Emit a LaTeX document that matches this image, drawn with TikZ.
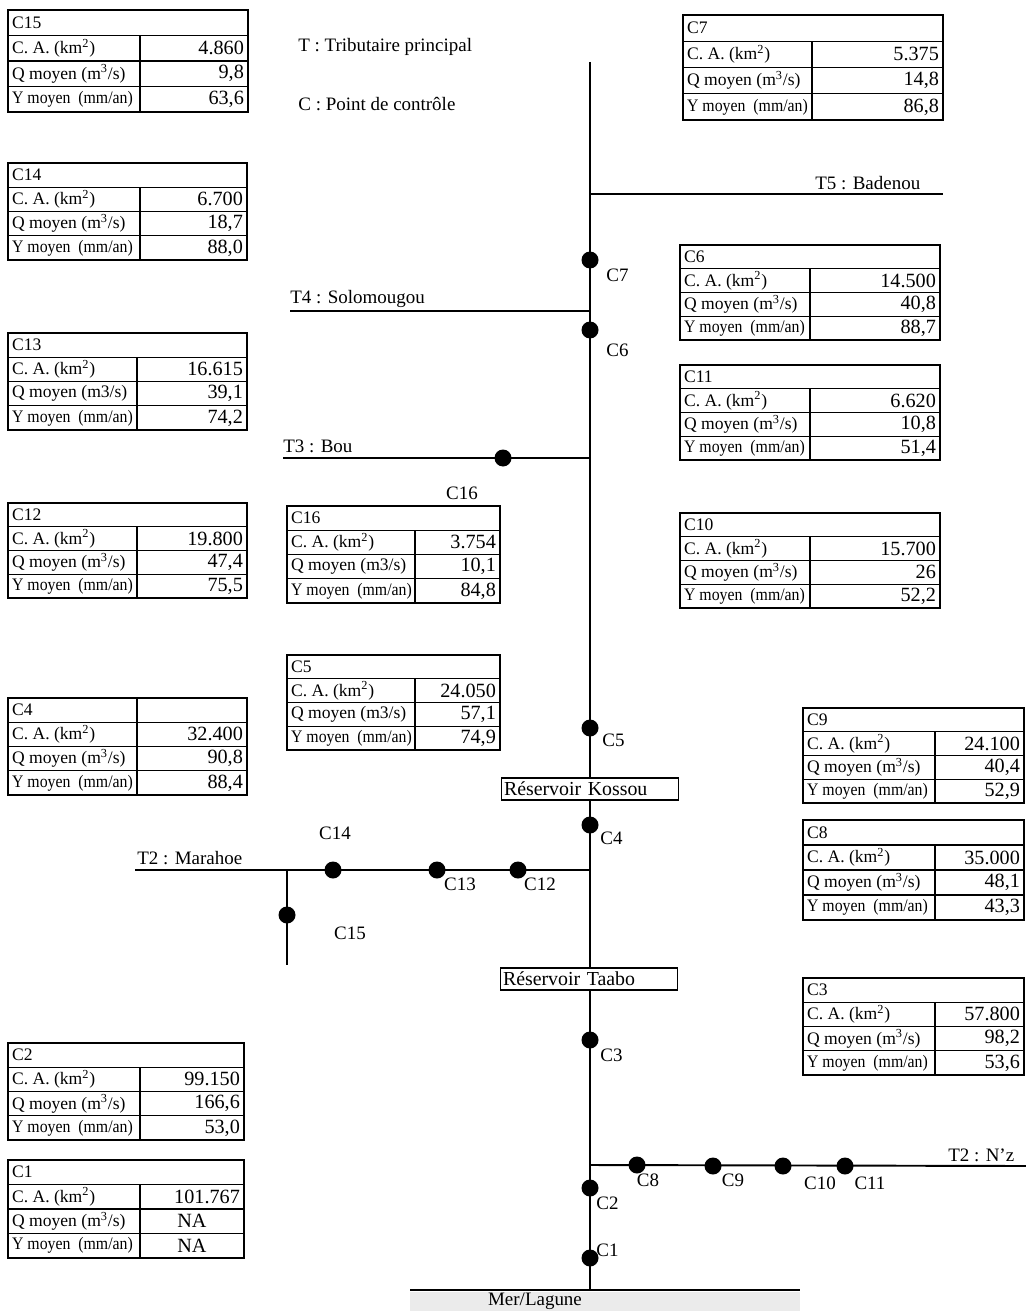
\documentclass[tikz,border=0pt]{standalone}
\usepackage{fontspec}
\usepackage{graphicx}
\setmainfont{Liberation Serif}
\begin{document}
\begin{tikzpicture}[x=0.02cm,y=-0.02cm,
  tabline/.style={line width=0.8pt},
  tabtxt/.style={inner sep=1pt,font=\fontsize{10}{12}\selectfont},
  tabval/.style={inner sep=1pt,font=\fontsize{11.5}{13}\selectfont},
  river/.style={line width=1.1pt},
  lbl/.style={inner sep=0pt,font=\fontsize{10.8}{12}\selectfont},
  dot/.style={circle,fill=black,inner sep=0pt,minimum size=0.34cm},
  resbox/.style={draw,line width=0.8pt,fill=white,text width=3.44cm,align=left,minimum height=0.44cm,inner sep=1.5pt,font=\fontsize{11.3}{12}\selectfont}]
\useasboundingbox (0,0) rectangle (1026,1311);
\newcommand{\datatab}[9]{%
 \foreach \xa/\xd/\xb in {#2}{%
  \pgfmathsetmacro\rh{(#4-#3)/4}
  \pgfmathsetmacro\ya{#3+\rh}
  \pgfmathsetmacro\yb{#3+2*\rh}
  \pgfmathsetmacro\yc{#3+3*\rh}
  \draw[tabline] (\xa,#3) rectangle (\xb,#4);
  \draw[tabline] (\xa,\ya) -- (\xb,\ya) (\xa,\yb) -- (\xb,\yb) (\xa,\yc) -- (\xb,\yc) (\xd,\ya) -- (\xd,#4);
  \node[tabtxt,anchor=west] (#1h) at (\xa+2,{#3+\rh/2}) {#5};
  \node[tabtxt,anchor=west] (#1la) at (\xa+2,{\ya+\rh/2}) {C. A. (km\textsuperscript{2})};
  \node[tabtxt,anchor=west] (#1lb) at (\xa+2,{\yb+\rh/2}) {Q moyen (#9)};
  \node[tabtxt,anchor=west] (#1lc) at (\xa+2,{\yc+\rh/2}) {\scalebox{0.9}[1]{Y moyen\ \ (mm/an)}};
  \node[tabval,anchor=east] (#1va) at (\xb-2,{\ya+\rh/2}) {#6};
  \node[tabval,anchor=east] (#1vb) at (\xb-2,{\yb+\rh/2}) {#7};
  \node[tabval,anchor=east] (#1vc) at (\xb-2,{\yc+\rh/2}) {#8};
 }}
\def\mc{m\textsuperscript{3}/s}
% tables
\datatab{t15}{8/140/248}{10}{112}{C15}{4.860}{9,8}{63,6}{\mc}
\datatab{t14}{8/140/247}{163}{260}{C14}{6.700}{18,7}{88,0}{\mc}
\datatab{t13}{8/137/247}{333}{430}{C13}{16.615}{39,1}{74,2}{m3/s}
\datatab{t12}{8/137/247}{503}{598}{C12}{19.800}{47,4}{75,5}{\mc}
\datatab{t4}{8/137/247}{698}{795}{C4}{32.400}{90,8}{88,4}{\mc}
\draw[tabline] (137,698) -- (137,722);
\datatab{t2}{8/140/244}{1043}{1140}{C2}{99.150}{166,6}{53,0}{\mc}
\datatab{t1}{8/140/244}{1160}{1258}{C1}{101.767}{NA\kern19pt\null}{NA\kern19pt\null}{\mc}
\datatab{t16}{287/415/500}{506}{603}{C16}{3.754}{10,1}{84,8}{m3/s}
\datatab{t5}{287/415/500}{655}{750}{C5}{24.050}{57,1}{74,9}{m3/s}
\datatab{t7}{683/812/943}{15}{120}{C7}{5.375}{14,8}{86,8}{\mc}
\datatab{t6}{680/810/940}{245}{340}{C6}{14.500}{40,8}{88,7}{\mc}
\datatab{t11}{680/810/940}{365}{460}{C11}{6.620}{10,8}{51,4}{\mc}
\datatab{t10}{680/810/940}{513}{608}{C10}{15.700}{26}{52,2}{\mc}
\datatab{t9}{803/935/1024}{708}{803}{C9}{24.100}{40,4}{52,9}{\mc}
\datatab{t8}{803/935/1024}{820}{920}{C8}{35.000}{48,1}{43,3}{\mc}
\datatab{t3}{803/935/1024}{978}{1075}{C3}{57.800}{98,2}{53,6}{\mc}
% legend
\node[lbl,anchor=west] (legT) at (298,47) {T : Tributaire principal};
\node[lbl,anchor=west] (legC) at (298,104) {C : Point de contrôle};
% sea
\fill[black!8] (410,1292) rectangle (800,1311);
\coordinate (seaW) at (410,1290);
\coordinate (seaE) at (800,1290);
\draw[line width=1.4pt] (seaW) -- (seaE);
\node[lbl] (sea) at (535,1301) {Mer/Lagune};
% main river
\coordinate (rtop) at (590,62);
\coordinate (mouth) at (590,1290);
\draw[river] (rtop) -- (mouth);
% T5
\coordinate (t5a) at (590,194);
\coordinate (t5b) at (943,194);
\draw[river] (t5a) -- (t5b);
\node[lbl,anchor=west] (t5l) at (815,183) {T5 : Badenou};
% T4
\coordinate (t4a) at (290,311);
\coordinate (t4b) at (590,311);
\draw[river] (t4a) -- (t4b);
\node[lbl,anchor=west] (t4l) at (290,299) {T4 : Solomougou};
% T3
\coordinate (t3a) at (283,458);
\coordinate (t3b) at (590,458);
\draw[river] (t3a) -- (t3b);
\node[lbl,anchor=west] (t3l) at (283,446) {T3 : Bou};
% T2 Marahoe
\coordinate (t2a) at (135,870);
\coordinate (t2b) at (590,870);
\coordinate (t2j) at (287,870);
\coordinate (t2s) at (287,965);
\draw[river] (t2a) -- (t2b);
\draw[river] (t2j) -- (t2s);
\node[lbl,anchor=west] (t2l) at (137,858) {T2 : Marahoe};
% T2 N'z
\coordinate (nza) at (590,1165);
\coordinate (nzb) at (1026,1166);
\draw[river] (nza) -- (nzb);
\node[lbl,anchor=west] (nzl) at (948,1155) {T2 : N'z};
% reservoirs
\node[resbox] (kossou) at (590,789) {Réservoir Kossou};
\node[resbox] (taabo) at (589,979) {Réservoir Taabo};
% control points
\node[dot] (c7) at (590,260) {};
\node[dot] (c6) at (590,330) {};
\node[dot] (c16) at (503,458) {};
\node[dot] (c5) at (590,728) {};
\node[dot] (c4) at (590,825) {};
\node[dot] (c14) at (333,870) {};
\node[dot] (c13) at (437,870) {};
\node[dot] (c12) at (518,870) {};
\node[dot] (c15) at (287,915) {};
\node[dot] (c3) at (590,1040) {};
\node[dot] (c8) at (637,1165) {};
\node[dot] (c9) at (713,1166) {};
\node[dot] (c10) at (783,1166) {};
\node[dot] (c11) at (845,1166) {};
\node[dot] (c2) at (590,1188) {};
\node[dot] (c1) at (590,1258) {};
% labels
\node[lbl,anchor=west] (lc7) at (606,275) {C7};
\node[lbl,anchor=west] (lc6) at (606,350) {C6};
\node[lbl] (lc16) at (462,493) {C16};
\node[lbl,anchor=west] (lc5) at (602,740) {C5};
\node[lbl,anchor=west] (lc4) at (600,838) {C4};
\node[lbl] (lc14) at (335,833) {C14};
\node[lbl] (lc13) at (460,884) {C13};
\node[lbl] (lc12) at (540,884) {C12};
\node[lbl] (lc15) at (350,933) {C15};
\node[lbl,anchor=west] (lc3) at (600,1055) {C3};
\node[lbl] (lc8) at (648,1180) {C8};
\node[lbl] (lc9) at (733,1180) {C9};
\node[lbl] (lc10) at (820,1183) {C10};
\node[lbl] (lc11) at (870,1183) {C11};
\node[lbl,anchor=west] (lc2) at (596,1203) {C2};
\node[lbl,anchor=west] (lc1) at (596,1250) {C1};
\end{tikzpicture}
\end{document}
